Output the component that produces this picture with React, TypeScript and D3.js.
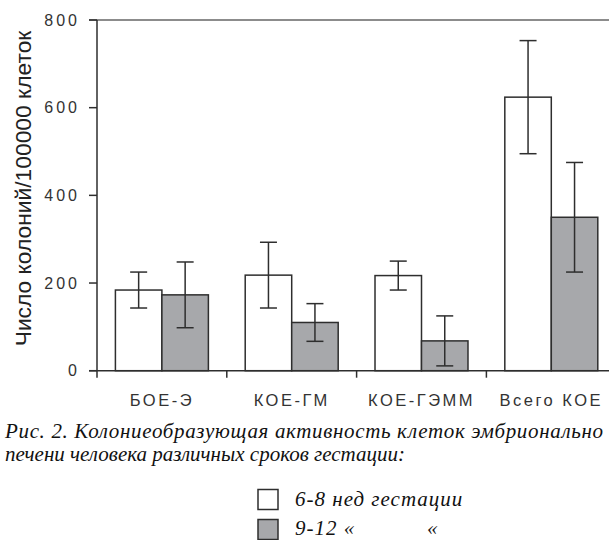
import React from "react";
import * as d3 from "d3";

// categories and series
const categories = ["БОЕ-Э", "КОЕ-ГМ", "КОЕ-ГЭММ", "Всего КОЕ"];
const seriesKeys = ["early", "late"];
const earlyMeans = [184, 218, 217, 624];
const earlyErrors = [41, 75, 33, 129];
const lateMeans = [173, 110, 68, 350];
const lateErrors = [75, 43, 57, 125];
const yTicks = [0, 200, 400, 600, 800];

const seriesColors: Record<string, string> = { early: "#ffffff", late: "#a7a8ab" };

const yTitle = "Число колоний/100000 клеток";
// first caption line is cut at the page edge in the source
const captionLines = [
  "Рис. 2. Колониеобразующая активность клеток эмбрионально",
  "печени человека различных сроков гестации:",
];
const legendLabels = ["6-8 нед гестации", "9-12 «"];

const App = () => {
  const width = 609;
  const height = 540;

  // plot area
  const left = 97;
  const top = 20;
  const bottom = 370.7;
  const step = 129.8;

  const xScale = d3
    .scaleBand<string>()
    .domain(categories)
    .range([left, left + step * categories.length])
    .padding(0);

  const inner = d3
    .scaleBand<string>()
    .domain(seriesKeys)
    .range([0, xScale.bandwidth()])
    .paddingInner(0)
    .paddingOuter(0.396);

  const yScale = d3.scaleLinear().domain([0, 800]).range([bottom, top]);

  const rows = categories.map((c, i) => ({
    cat: c,
    values: [
      { key: "early", mean: earlyMeans[i], err: earlyErrors[i] },
      { key: "late", mean: lateMeans[i], err: lateErrors[i] },
    ],
  }));

  const capW = 17;
  const dark = "#2e2e2e";
  const serif = "'Liberation Serif', 'Times New Roman', serif";
  const sans = "'Liberation Sans', Arial, sans-serif";

  return (
    <svg
      width={width}
      height={height}
      style={{ position: "absolute", left: 0, top: 0, display: "block", background: "#fff" }}
    >
      {/* top frame line */}
      <line x1={89} x2={width} y1={top} y2={top} stroke="#666" strokeWidth={1.6} />

      {/* bars */}
      {rows.map(r => (
        <g key={r.cat} transform={`translate(${xScale(r.cat)},0)`}>
          {r.values.map(v => {
            const x = inner(v.key) as number;
            const w = inner.bandwidth();
            const cx = x + w / 2;
            return (
              <g key={v.key}>
                <rect
                  x={x}
                  y={yScale(v.mean)}
                  width={w}
                  height={bottom - yScale(v.mean)}
                  fill={seriesColors[v.key]}
                  stroke={dark}
                  strokeWidth={1.5}
                />
                <line x1={cx} x2={cx} y1={yScale(v.mean + v.err)} y2={yScale(v.mean - v.err)} stroke={dark} strokeWidth={1.5} />
                <line x1={cx - capW / 2} x2={cx + capW / 2} y1={yScale(v.mean + v.err)} y2={yScale(v.mean + v.err)} stroke={dark} strokeWidth={1.5} />
                <line x1={cx - capW / 2} x2={cx + capW / 2} y1={yScale(v.mean - v.err)} y2={yScale(v.mean - v.err)} stroke={dark} strokeWidth={1.5} />
              </g>
            );
          })}
        </g>
      ))}

      {/* y axis */}
      <line x1={left} x2={left} y1={top} y2={bottom + 7} stroke={dark} strokeWidth={1.5} />
      {yTicks.map(t => (
        <g key={t}>
          <line x1={89} x2={left} y1={yScale(t)} y2={yScale(t)} stroke={dark} strokeWidth={1.5} />
          <text
            x={80}
            y={yScale(t)}
            dy="0.36em"
            textAnchor="end"
            fontFamily={sans}
            fontSize={16}
            letterSpacing={3}
            fill="#333"
          >
            {t}
          </text>
        </g>
      ))}

      {/* x axis */}
      <line x1={89} x2={width} y1={bottom} y2={bottom} stroke={dark} strokeWidth={1.5} />
      {categories.slice(1).map(c => (
        <line key={c} x1={xScale(c)} x2={xScale(c)} y1={bottom} y2={bottom + 7} stroke={dark} strokeWidth={1.5} />
      ))}
      {categories.map(c => (
        <text
          key={c}
          x={(xScale(c) as number) + xScale.bandwidth() / 2}
          y={406}
          textAnchor="middle"
          fontFamily={sans}
          fontSize={16.5}
          letterSpacing={2.5}
          fill="#333"
        >
          {c}
        </text>
      ))}

      {/* y title */}
      <text
        transform={`translate(31,${(27 + 350) / 2}) rotate(-90)`}
        textAnchor="middle"
        fontFamily={sans}
        fontSize={22.8}
        fill="#222"
      >
        {yTitle}
      </text>

      {/* caption */}
      <text x={5} y={438} fontFamily={serif} fontStyle="italic" fontSize={21} letterSpacing={0.65} fill="#111">
        {captionLines[0]}
      </text>
      <text x={5} y={461} fontFamily={serif} fontStyle="italic" fontSize={21} fill="#111">
        {captionLines[1]}
      </text>

      {/* legend */}
      {seriesKeys.map((k, i) => (
        <g key={k}>
          <rect
            x={258}
            y={489.5 + i * 30}
            width={20}
            height={20}
            fill={seriesColors[k]}
            stroke={dark}
            strokeWidth={1.5}
          />
          <text
            x={295}
            y={506 + i * 29}
            fontFamily={serif}
            fontStyle="italic"
            fontSize={21}
            letterSpacing={1}
            fill="#111"
          >
            {legendLabels[i]}
          </text>
        </g>
      ))}
      <text x={427} y={535} fontFamily={serif} fontStyle="italic" fontSize={21} fill="#111">
        «
      </text>
    </svg>
  );
};

export default App;
